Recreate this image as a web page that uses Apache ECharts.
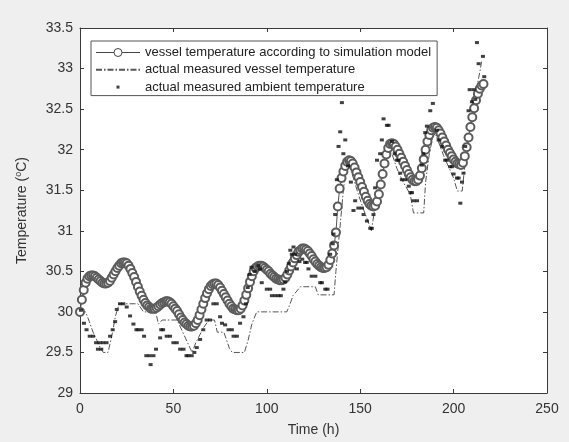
<!DOCTYPE html>
<html>
<head>
<meta charset="utf-8">
<script src="https://cdn.jsdelivr.net/npm/echarts@6/dist/echarts.min.js"></script>
<style>
html,body{margin:0;padding:0;background:#efefef;}
#chart{width:569px;height:442px;}
</style>
</head>
<body>
<div id="chart"></div>
<script>
// Simulation model: one value per hour, starting at t = 0
var simStartHour = 0;
var simStepHours = 1;
var simValues = [
30.00,30.15,30.27,30.36,30.41,30.44,30.45,30.45,30.44,30.42,
30.40,30.38,30.36,30.35,30.35,30.36,30.38,30.42,30.46,30.50,
30.54,30.57,30.60,30.61,30.61,30.60,30.57,30.53,30.48,30.43,
30.37,30.31,30.25,30.20,30.15,30.11,30.08,30.06,30.04,30.04,
30.04,30.05,30.07,30.09,30.11,30.12,30.13,30.13,30.12,30.10,
30.07,30.04,30.01,29.97,29.93,29.90,29.87,29.85,29.83,29.82,
29.82,29.83,29.86,29.90,29.96,30.03,30.10,30.17,30.23,30.28,
30.32,30.34,30.35,30.35,30.33,30.30,30.26,30.22,30.18,30.14,
30.10,30.07,30.04,30.03,30.02,30.02,30.04,30.08,30.14,30.21,
30.29,30.37,30.44,30.50,30.54,30.56,30.57,30.57,30.56,30.54,
30.52,30.50,30.47,30.45,30.43,30.41,30.40,30.39,30.39,30.40,
30.42,30.46,30.51,30.56,30.61,30.66,30.70,30.74,30.76,30.78,
30.78,30.77,30.75,30.72,30.69,30.65,30.62,30.59,30.57,30.55,
30.54,30.54,30.55,30.58,30.64,30.72,30.82,30.98,31.30,31.52,
31.65,31.73,31.80,31.85,31.87,31.86,31.83,31.78,31.72,31.66,
31.60,31.54,31.48,31.42,31.37,31.33,31.31,31.30,31.31,31.36,
31.45,31.57,31.70,31.83,31.94,32.02,32.07,32.08,32.07,32.04,
32.00,31.95,31.90,31.85,31.80,31.75,31.70,31.66,31.63,31.61,
31.61,31.63,31.68,31.77,31.88,32.00,32.10,32.18,32.24,32.27,
32.28,32.27,32.24,32.20,32.15,32.10,32.05,32.00,31.96,31.92,
31.88,31.85,31.83,31.82,31.81,31.84,31.92,32.03,32.15,32.28,
32.40,32.51,32.61,32.69,32.75,32.79,32.81
];

// Actual measured vessel temperature (hours, °C)
var vesselHours = [0,3,5,7,9,11,12.5,15,17,19,21,31,34,40.5,42,44,52,55,58,60,62,66,69,72,73.5,77,80,81.5,88,90,92,94.6,110.7,112.5,114,118,126,127.5,136,137,139,141,142.9,145,149,152,156,158,160.7,163,165,167,169.6,173,176.8,178.5,184,185,187,189.3,191,194.6,200,202,204.6,206.2,209,211.6,214.3,215];
var vesselValues = [30.0,30.0,29.88,29.75,29.65,29.55,29.5,29.5,29.7,29.95,30.1,30.1,30.0,30.0,29.85,29.9,29.9,29.75,29.6,29.5,29.62,29.8,29.9,29.9,29.75,29.75,29.55,29.5,29.5,29.65,29.85,30.0,30.0,30.1,30.2,30.31,30.31,30.21,30.21,30.5,31.0,31.5,31.85,31.75,31.45,31.25,31.0,31.3,31.65,31.9,32.0,31.95,31.77,31.6,31.45,31.22,31.22,31.6,31.95,32.2,32.15,31.93,31.65,31.49,31.49,31.85,32.3,32.67,32.99,33.09];

// Actual measured ambient temperature (hours, °C)
var ambientHours = [0.5,2.1,3.5,5.2,7,8.6,9.6,10.5,11.4,12.3,14.2,16.1,17.5,18.8,19.7,
21.4,23.2,25,26.8,28.6,30.2,31.2,33,34.3,35.5,37.3,37.8,39.3,40.7,
42.9,43.5,44.5,46.4,48.2,50,51.8,53.6,55.4,57,58,59.8,
61.2,62.5,64.3,66,67.8,69.6,71.4,73.2,75,76,77.7,79.5,81.3,82.2,84,85.7,87.5,
88.8,89.8,90.8,91.8,93.5,95.5,96.4,97.3,100,101.8,
102.7,104.5,106.2,107.5,108.9,109.8,110.8,111.8,112.6,113.4,114.3,115.2,116.1,117.5,119,120.5,121.4,122.3,124,126,128.6,129.5,131.3,132.5,133.9,135.3,135.7,
136.6,137.5,138.4,139.3,140.2,141,142,143.5,145,146.4,147.3,149,150.9,151.8,153.6,155.4,156.2,157.1,158,159,160.7,161.6,162.5,164.3,165.2,
167,168.5,169.6,170.5,171.4,172.3,174.1,176,176.9,177.7,178.5,180.4,183,183.8,184.8,185.7,187.5,188.9,
191,192,193.8,195.5,196.4,198.2,199.1,200,201.8,202.7,203.6,204.5,205.3,206.2,208,208.6,209.8,210.7,211.6,212.5,213.4,215.7,216.4];
var ambientValues = [30.02,29.86,29.78,29.7,29.7,29.62,29.54,29.62,29.54,29.62,29.62,29.7,29.78,29.88,30.03,
30.1,30.1,30.06,29.95,29.85,29.78,29.78,29.78,29.7,29.46,29.46,29.35,29.46,29.54,
29.68,29.78,29.78,29.7,29.7,29.62,29.62,29.54,29.54,29.46,29.46,29.46,
29.5,29.56,29.66,29.78,29.9,29.9,30.1,30.1,29.94,29.86,29.84,29.78,29.78,29.7,29.7,29.86,29.94,
30.1,30.3,30.46,30.55,30.5,30.57,30.53,30.36,30.28,30.28,
30.2,30.2,30.2,30.2,30.28,30.37,30.5,30.6,30.76,30.71,30.8,30.71,30.53,30.62,30.65,30.61,30.61,30.53,30.44,30.44,30.36,30.36,30.28,30.28,30.71,30.84,30.96,
31.2,31.63,32.04,32.22,32.58,31.95,32.12,31.8,31.6,31.25,31.37,31.28,31.28,31.2,31.12,31.03,31.03,31.2,31.53,31.87,31.95,32.12,32.38,32.3,32.3,
32.1,31.95,31.87,31.87,31.71,31.63,31.63,31.55,31.47,31.47,31.37,31.37,31.81,31.95,32.21,32.29,32.48,32.57,
32.24,32.12,32.04,31.87,31.87,31.79,31.79,31.7,31.65,31.65,31.34,31.6,31.71,32.04,32.48,32.74,32.59,32.74,32.62,33.32,33.06,33.15,32.9];

var xTicks = {min:0, max:250, interval:50};
var yTicks = {min:29, max:33.5, interval:0.5};

var simData = simValues.map(function(v,i){return [simStartHour + i*simStepHours, v];});
var vesselData = vesselHours.map(function(h,i){return [h, vesselValues[i]];});
var ambientData = ambientHours.map(function(h,i){return [h, ambientValues[i]];});

var axisColor = '#3a3a3a';
var labelFont = {color:'#333', fontSize:14, fontFamily:'Liberation Sans, Arial, sans-serif'};

var chart = echarts.init(document.getElementById('chart'), null, {renderer:'canvas'});
chart.setOption({
  backgroundColor:'#efefef',
  animation:false,
  grid:{left:80, right:22, top:28, bottom:45, show:true, backgroundColor:'#ffffff', borderWidth:0},
  legend:{
    orient:'vertical', left:91, top:41,
    backgroundColor:'#ffffff', borderColor:'#555', borderWidth:1,
    padding:[5,6,2,4], itemGap:4.3, itemWidth:44, itemHeight:12,
    textStyle:{color:'#222', fontSize:13, fontFamily:'Liberation Sans, Arial, sans-serif'},
    data:[
      {name:'vessel temperature according to simulation model',
       icon:'path://M0,0 M44,12 M0,6 L18,6 M26,6 L44,6 M26,6 A4,4 0 1 1 18,6 A4,4 0 1 1 26,6',
       itemStyle:{color:'rgba(0,0,0,0)', borderColor:'#444', borderWidth:1}},
      {name:'actual measured vessel temperature', itemStyle:{opacity:0}},
      {name:'actual measured ambient temperature', icon:'path://M0,0 M44,12 M20.5,4.5 L23.5,4.5 L23.5,7.5 L20.5,7.5 Z', itemStyle:{color:'#111'}}
    ],
    selectedMode:false
  },
  xAxis:[{
    type:'value', min:xTicks.min, max:xTicks.max, interval:xTicks.interval,
    name:'Time (h)', nameLocation:'middle', nameGap:30,
    nameTextStyle:labelFont,
    axisLine:{show:true, onZero:false, lineStyle:{color:axisColor, width:1}},
    axisTick:{show:true, inside:true, length:4, lineStyle:{color:axisColor}},
    axisLabel:Object.assign({margin:9}, labelFont),
    splitLine:{show:false}
  },{
    type:'value', position:'top', min:xTicks.min, max:xTicks.max, interval:xTicks.interval,
    axisLine:{show:true, onZero:false, lineStyle:{color:axisColor, width:1}},
    axisTick:{show:true, inside:true, length:4, lineStyle:{color:axisColor}},
    axisLabel:{show:false}, splitLine:{show:false}
  }],
  yAxis:[{
    type:'value', min:yTicks.min, max:yTicks.max, interval:yTicks.interval,
    name:'Temperature ({sup|o}C)', nameLocation:'middle', nameGap:50, nameRotate:90,
    nameTextStyle:Object.assign({rich:{sup:{fontSize:9, verticalAlign:'top', padding:[0,0,7,0], color:'#333'}}}, labelFont),
    axisLine:{show:true, onZero:false, lineStyle:{color:axisColor, width:1}},
    axisTick:{show:true, inside:true, length:4, lineStyle:{color:axisColor}},
    axisLabel:Object.assign({margin:7}, labelFont),
    splitLine:{show:false}
  },{
    type:'value', position:'right', min:yTicks.min, max:yTicks.max, interval:yTicks.interval,
    axisLine:{show:true, onZero:false, lineStyle:{color:axisColor, width:1}},
    axisTick:{show:true, inside:true, length:4, lineStyle:{color:axisColor}},
    axisLabel:{show:false}, splitLine:{show:false}
  }],
  series:[{
    name:'vessel temperature according to simulation model',
    type:'line', data:simData, symbol:'emptyCircle', symbolSize:8, showSymbol:true, showAllSymbol:true,
    lineStyle:{color:'#555', width:1},
    itemStyle:{color:'#5c5c5c', borderWidth:0.9},
    z:3
  },{
    name:'actual measured vessel temperature',
    type:'line', data:vesselData, showSymbol:false, symbol:'none',
    lineStyle:{color:'#555', width:1, type:[6,2,1.5,2]},
    itemStyle:{color:'#555'},
    z:2
  },{
    name:'actual measured ambient temperature',
    type:'scatter', data:ambientData, symbol:'rect', symbolSize:[4,3],
    itemStyle:{color:'#111'},
    z:4
  }]
});
</script>
</body>
</html>
